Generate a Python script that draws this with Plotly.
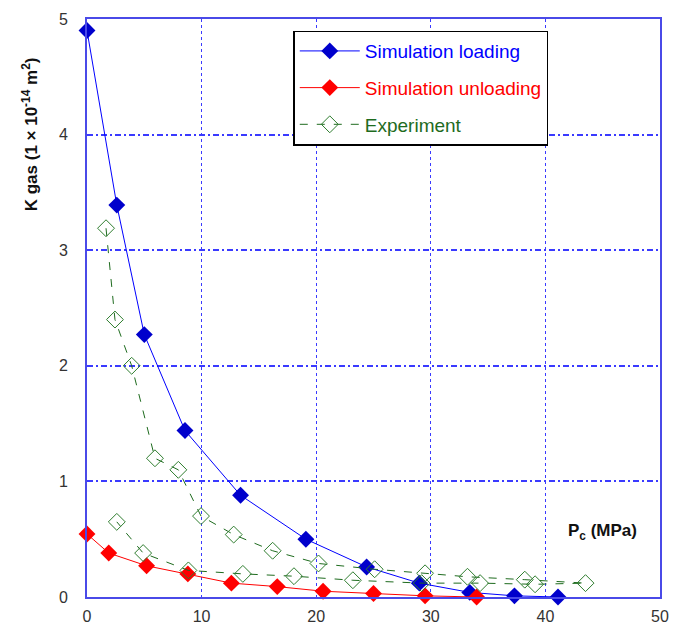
import plotly.graph_objects as go

# Simulation loading
load_x = [0, 2.6, 5.0, 8.55, 13.4, 19.1, 24.4, 29.0, 33.4, 37.3, 41.1]
load_y = [4.90, 3.39, 2.27, 1.44, 0.88, 0.50, 0.26, 0.12, 0.04, 0.01, 0.0]

# Simulation unloading
unload_x = [0, 1.9, 5.2, 8.8, 12.6, 16.6, 20.6, 25.0, 29.5, 34.0]
unload_y = [0.545, 0.38, 0.27, 0.20, 0.12, 0.09, 0.05, 0.03, 0.01, 0.0]

# Experiment (loading branch then unloading branch)
exp_x = [1.66, 2.44, 3.9, 5.93, 7.97, 9.95, 12.8, 16.2, 20.2, 25.1, 29.5, 33.2, 38.2,
         43.5, 39.1, 34.3, 29.2, 23.2, 18.06, 13.6, 8.85, 4.9, 2.6]
exp_y = [3.19, 2.40, 2.00, 1.20, 1.10, 0.70, 0.54, 0.40, 0.29, 0.24, 0.205, 0.175, 0.15,
         0.12, 0.11, 0.12, 0.12, 0.145, 0.18, 0.20, 0.23, 0.38, 0.65]

x_ticks = [0, 10, 20, 30, 40, 50]
y_ticks = [0, 1, 2, 3, 4, 5]

fig = go.Figure()
fig.add_trace(go.Scatter(
    x=load_x, y=load_y, mode="lines+markers",
    name="<span style='color:#0000ff'>Simulation loading</span>",
    line=dict(color="#0000ff", width=1),
    marker=dict(symbol="diamond", size=13, color="#0000cc"),
    legendgroup="a", cliponaxis=False))
fig.add_trace(go.Scatter(
    x=unload_x, y=unload_y, mode="lines+markers",
    name="<span style='color:#ff0000'>Simulation unloading</span>",
    line=dict(color="#ff0000", width=1),
    marker=dict(symbol="diamond", size=13, color="#ff0000"),
    legendgroup="b", cliponaxis=False))
fig.add_trace(go.Scatter(
    x=exp_x, y=exp_y, mode="lines+markers",
    name="<span style='color:#1e6b1e'>Experiment</span>",
    line=dict(color="#1e6b1e", width=1, dash="8px,9px"),
    marker=dict(symbol="diamond-open", size=13, color="#2e7d2e", line=dict(width=1)),
    legendgroup="c", cliponaxis=False))

fig.update_layout(
    width=675, height=633,
    margin=dict(l=87, r=15, t=19, b=36),
    paper_bgcolor="white", plot_bgcolor="white",
    font=dict(family="Liberation Sans, Arial, sans-serif", size=16, color="#333333"),
    showlegend=True,
    legend=dict(
        x=0.36, y=0.98, xanchor="left", yanchor="top",
        bordercolor="#000000", borderwidth=1.5, bgcolor="white",
        font=dict(size=19), traceorder="grouped", tracegroupgap=9,
        itemwidth=60, entrywidth=245, entrywidthmode="pixels"),
    xaxis=dict(
        range=[0, 50], tickvals=x_ticks, showgrid=True, automargin=False,
        gridcolor="#3a3aff", griddash="dot", gridwidth=1,
        showline=True, linecolor="#4a4ae8", linewidth=2, mirror=True,
        zeroline=False, ticks="", ticklabelstandoff=4,
        tickfont=dict(size=16, color="#333333")),
    yaxis=dict(
        range=[0, 5], tickvals=y_ticks, showgrid=True, automargin=False,
        gridcolor="#3a3aff", griddash="6px,3px,2px,3px", gridwidth=1.5,
        showline=True, linecolor="#4a4ae8", linewidth=2, mirror=True,
        zeroline=False, ticks="", ticklabelstandoff=14,
        tickfont=dict(size=16, color="#333333")),
)

# y-axis title (placed near the top, as in the reference)
fig.add_annotation(
    x=-0.1, y=0.80, xref="paper", yref="paper", xanchor="center", yanchor="middle",
    text="<b>K gas (1 × 10<sup>-14</sup> m<sup>2</sup>)</b>", textangle=-90,
    showarrow=False, font=dict(size=17, color="#111111"))

# x-axis title drawn inside the plot area
fig.add_annotation(
    x=0.836, y=0.112, xref="paper", yref="paper", xanchor="left", yanchor="middle",
    text="<b>P<sub>c</sub> (MPa)</b>", showarrow=False,
    font=dict(size=17, color="#111111"))

fig.write_html("out.html", config={"displayModeBar": False},
               post_script="document.body.style.margin='0';")
